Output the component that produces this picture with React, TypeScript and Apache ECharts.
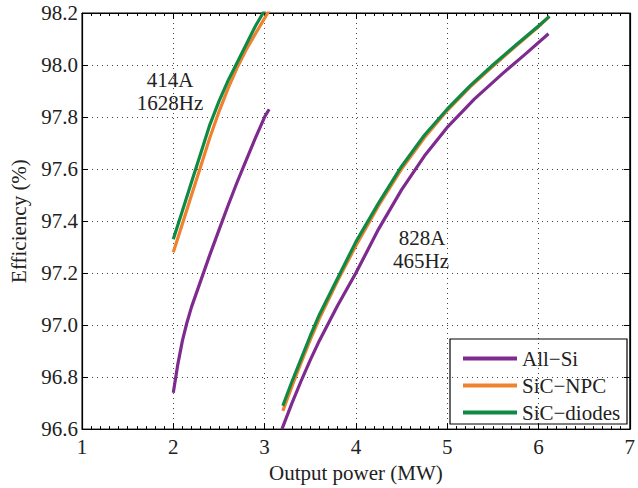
import React, { useEffect, useRef } from "react";
import * as echarts from "echarts";

// 414A / 1628Hz segment
const allSiLowX = [2.0, 2.05, 2.1, 2.15, 2.2, 2.3, 2.4, 2.5, 2.6, 2.7, 2.8, 2.9, 3.0, 3.05];
const allSiLowY = [96.74, 96.85, 96.94, 97.01, 97.07, 97.17, 97.27, 97.365, 97.46, 97.55, 97.635, 97.72, 97.8, 97.83];
const npcLowX = [2.0, 2.1, 2.2, 2.3, 2.4, 2.5, 2.6, 2.7, 2.8, 2.9, 3.0, 3.05];
const npcLowY = [97.28, 97.39, 97.5, 97.61, 97.72, 97.82, 97.91, 97.99, 98.06, 98.12, 98.18, 98.21];
const diodesLowX = [2.0, 2.1, 2.2, 2.3, 2.4, 2.5, 2.6, 2.7, 2.8, 2.9, 3.0];
const diodesLowY = [97.33, 97.44, 97.55, 97.66, 97.77, 97.86, 97.94, 98.01, 98.08, 98.15, 98.21];

// 828A / 465Hz segment
const allSiHighX = [3.19, 3.3, 3.4, 3.5, 3.6, 3.8, 4.0, 4.25, 4.5, 4.75, 5.0, 5.3, 5.6, 5.85, 6.11];
const allSiHighY = [96.6, 96.7, 96.785, 96.865, 96.94, 97.075, 97.2, 97.37, 97.52, 97.65, 97.76, 97.87, 97.965, 98.04, 98.12];
const highX = [3.2, 3.3, 3.4, 3.5, 3.6, 3.8, 4.0, 4.25, 4.5, 4.75, 5.0, 5.25, 5.5, 5.75, 6.0, 6.12];
const npcHighY = [96.67, 96.765, 96.855, 96.943, 97.025, 97.17, 97.305, 97.46, 97.6, 97.72, 97.825, 97.915, 97.995, 98.072, 98.147, 98.187];
const diodesHighY = [96.69, 96.783, 96.87, 96.958, 97.04, 97.18, 97.32, 97.47, 97.61, 97.73, 97.83, 97.92, 98.0, 98.076, 98.15, 98.187];

const seriesNames = ["All\u2212Si", "SiC\u2212NPC", "SiC\u2212diodes"];
const seriesColors = ["#7F2A8F", "#F0812E", "#0E8A45"];

const xMin = 1;
const xMax = 7;
const yMin = 96.6;
const yMax = 98.2;

const FONT = "'Liberation Serif', 'Times New Roman', serif";

const zip = (xs: number[], ys: number[]) => xs.map((x, i) => [x, ys[i]]);

export default function App() {
  const ref = useRef<HTMLDivElement>(null);
  useEffect(() => {
    document.body.style.margin = "0";
    if (!ref.current) return;
    const chart = echarts.init(ref.current, undefined, { renderer: "svg" });
    const segs = [
      [zip(allSiLowX, allSiLowY), zip(allSiHighX, allSiHighY)],
      [zip(npcLowX, npcLowY), zip(highX, npcHighY)],
      [zip(diodesLowX, diodesLowY), zip(highX, diodesHighY)],
    ];
    const series: any[] = [];
    segs.forEach((pair, i) => {
      pair.forEach((data) => {
        series.push({
          type: "line",
          name: seriesNames[i],
          data,
          showSymbol: false,
          symbol: "none",
          smooth: false,
          clip: true,
          lineStyle: { color: seriesColors[i], width: 3.2, join: "round" },
          itemStyle: { color: seriesColors[i] },
          z: 2 + i,
        });
      });
    });
    const splitLine = {
      show: true,
      lineStyle: { color: "#444", type: [1, 4], width: 1 },
    };
    const textStyleBase = { fontFamily: FONT, fontSize: 21, color: "#222" };
    chart.setOption({
      animation: false,
      backgroundColor: "#fff",
      grid: {
        left: 78,
        top: 13,
        width: 557,
        height: 418,
        show: true,
        borderColor: "#000",
        borderWidth: 1,
        backgroundColor: "transparent",
      },
      legend: {
        orient: "vertical",
        left: 458,
        top: 343,
        icon: "rect",
        itemWidth: 54,
        itemHeight: 4,
        itemGap: 6,
        data: seriesNames,
        textStyle: { ...textStyleBase },
        selectedMode: false,
      },
      graphic: [
        {
          type: "rect",
          shape: { x: 450, y: 339, width: 177, height: 85 },
          style: { fill: "transparent", stroke: "#000", lineWidth: 1.2 },
          z: 100,
          silent: true,
        },
        {
          type: "text",
          x: 170,
          y: 80,
          style: { text: "414A", font: `21px ${FONT}`, fill: "#222", align: "center", verticalAlign: "middle" },
        },
        {
          type: "text",
          x: 170,
          y: 103,
          style: { text: "1628Hz", font: `21px ${FONT}`, fill: "#222", align: "center", verticalAlign: "middle" },
        },
        {
          type: "text",
          x: 422,
          y: 238,
          style: { text: "828A", font: `21px ${FONT}`, fill: "#222", align: "center", verticalAlign: "middle" },
        },
        {
          type: "text",
          x: 421,
          y: 261,
          style: { text: "465Hz", font: `21px ${FONT}`, fill: "#222", align: "center", verticalAlign: "middle" },
        },
      ],
      xAxis: [
        {
          type: "value",
          min: xMin,
          max: xMax,
          interval: 1,
          position: "bottom",
          name: "Output power (MW)",
          nameLocation: "middle",
          nameGap: 27,
          nameTextStyle: { ...textStyleBase },
          axisLine: { show: true, onZero: false, lineStyle: { color: "#000", width: 1.2 } },
          axisTick: { show: true, inside: true, length: 6, lineStyle: { color: "#000" } },
          minorTick: { show: true, splitNumber: 10, length: 3, lineStyle: { color: "#000" } },
          axisLabel: { ...textStyleBase, margin: 7 },
          splitLine,
        },
        {
          type: "value",
          min: xMin,
          max: xMax,
          interval: 1,
          position: "top",
          axisLine: { show: true, onZero: false, lineStyle: { color: "#000", width: 1.2 } },
          axisTick: { show: true, inside: true, length: 6, lineStyle: { color: "#000" } },
          minorTick: { show: true, splitNumber: 10, length: 3, lineStyle: { color: "#000" } },
          axisLabel: { show: false },
          splitLine: { show: false },
        },
      ],
      yAxis: [
        {
          type: "value",
          min: yMin,
          max: yMax,
          interval: 0.2,
          position: "left",
          name: "Efficiency (%)",
          nameLocation: "middle",
          nameGap: 53,
          nameTextStyle: { ...textStyleBase },
          axisLine: { show: true, onZero: false, lineStyle: { color: "#000", width: 1.2 } },
          axisTick: { show: true, inside: true, length: 6, lineStyle: { color: "#000" } },
          axisLabel: {
            ...textStyleBase,
            margin: 4,
            formatter: (v: number) => v.toFixed(1),
          },
          splitLine,
        },
        {
          type: "value",
          min: yMin,
          max: yMax,
          interval: 0.2,
          position: "right",
          axisLine: { show: true, onZero: false, lineStyle: { color: "#000", width: 1.2 } },
          axisTick: { show: true, inside: true, length: 6, lineStyle: { color: "#000" } },
          axisLabel: { show: false },
          splitLine: { show: false },
        },
      ],
      series,
    });
    return () => chart.dispose();
  }, []);
  return <div ref={ref} style={{ width: 638, height: 488 }} />;
}
